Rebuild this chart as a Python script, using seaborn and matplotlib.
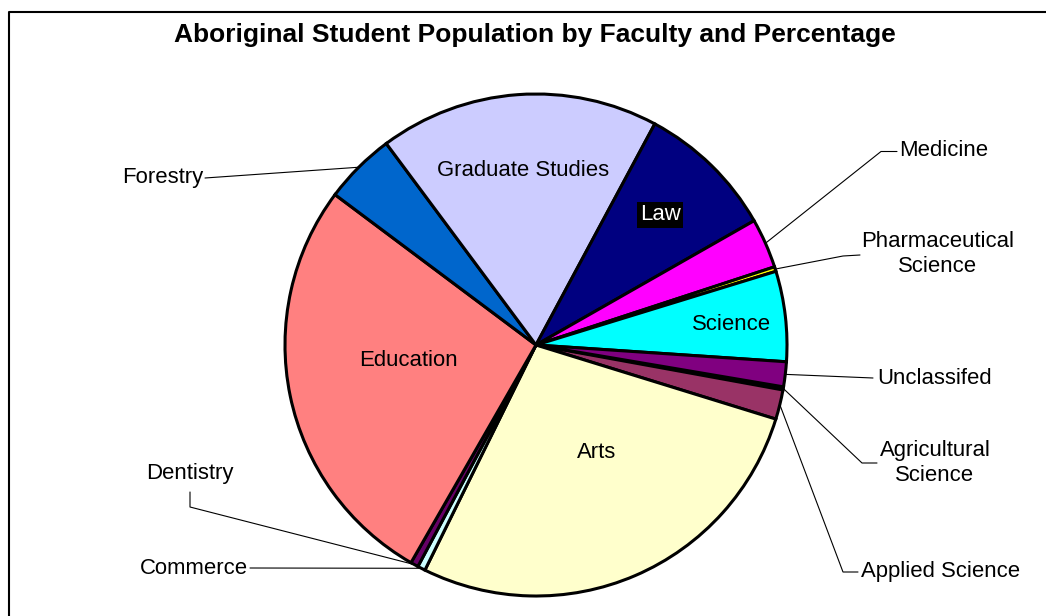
import matplotlib
matplotlib.use("Agg")
import matplotlib.pyplot as plt
import seaborn as sns
import numpy as np

W, H = 1046, 616

faculties = ["Agricultural Science", "Applied Science", "Arts", "Commerce",
             "Dentistry", "Education", "Forestry", "Graduate Studies", "Law",
             "Medicine", "Pharmaceutical Science", "Science", "Unclassifed"]
percentages = [0.2, 1.9, 27.5, 0.5, 0.5, 26.9, 4.6, 18.0, 8.9, 3.2, 0.3, 5.8, 1.6]
colors = ["#9999FF", "#993366", "#FFFFCC", "#CCFFFF", "#660066", "#FF8080",
          "#0066CC", "#CCCCFF", "#000080", "#FF00FF", "#FFFF00", "#00FFFF",
          "#800080"]
title = "Aboriginal Student Population by Faculty and Percentage"

sns.set_theme(style="white")
plt.rcParams['font.family'] = ['Liberation Sans', 'DejaVu Sans']
plt.rcParams['text.color'] = 'black'

def py(y):
    # pixel row (from top) -> data y
    return H - y

fig = plt.figure(figsize=(W / 100, H / 100), dpi=100)
ax = fig.add_axes([0, 0, 1, 1])

cx, cy, r = 536, py(345), 251
wedges, _ = ax.pie(percentages, colors=sns.color_palette(colors),
                   startangle=-9.6, counterclock=False,
                   center=(cx, cy), radius=r,
                   wedgeprops=dict(edgecolor="black", linewidth=2.2))
ax.set_xlim(0, W)
ax.set_ylim(0, H)
ax.set_aspect("auto")
ax.set_axis_off()

def edge_point(w):
    mid = np.deg2rad((w.theta1 + w.theta2) / 2)
    return cx + r * np.cos(mid), cy + r * np.sin(mid)

fs = 15.9
# labels inside the slices
inside = {
    "Graduate Studies": (523, 171),
    "Science": (732, 324),
    "Education": (408, 361),
    "Arts": (597, 452),
}
for name, (x, y) in inside.items():
    ax.text(x, py(y), name, ha="center", va="center", fontsize=fs, color="black")
ax.text(660, py(215), "Law", ha="center", va="center", fontsize=fs, color="white",
        bbox=dict(boxstyle="square,pad=0.12", fc="black", ec="none"))

# outside labels with leader lines: text pos, alignment, elbow points
outside = {
    "Forestry": ((203, 177), "right", [(205, 178)]),
    "Medicine": ((899, 151), "left", [(897, 151.5), (881, 151.5)]),
    "Pharmaceutical Science": ((938, 254), "center", [(860, 255), (843, 256)]),
    "Unclassifed": ((877, 378), "left", [(873, 378)]),
    "Agricultural Science": ((935, 463), "center", [(877, 463), (862, 463)]),
    "Applied Science": ((861, 572), "left", [(858, 572), (843, 572)]),
    "Dentistry": ((190, 473), "center", [(190, 492), (190, 507)]),
    "Commerce": ((248, 568), "right", [(250, 568)]),
}
for name, ((x, y), ha, elbows) in outside.items():
    w = wedges[faculties.index(name)]
    label = name.replace(" ", "\n") if ha == "center" and " " in name else name
    ax.text(x, py(y), label, ha=ha, va="center", fontsize=fs, color="black",
            multialignment="center", linespacing=1.3)
    ex, ey = edge_point(w)
    xs = [p[0] for p in elbows] + [ex]
    ys = [py(p[1]) for p in elbows] + [ey]
    ax.plot(xs, ys, color="black", lw=0.8)

ax.text(535, py(35), title, ha="center", va="center", fontsize=19,
        fontweight="bold", color="black")

# chart frame (partly cut off at right and bottom)
ax.plot([9, 9, W + 10], [-10, py(12), py(12)], color="black", lw=1.5,
        clip_on=False)

fig.savefig("out.png", dpi=100)
